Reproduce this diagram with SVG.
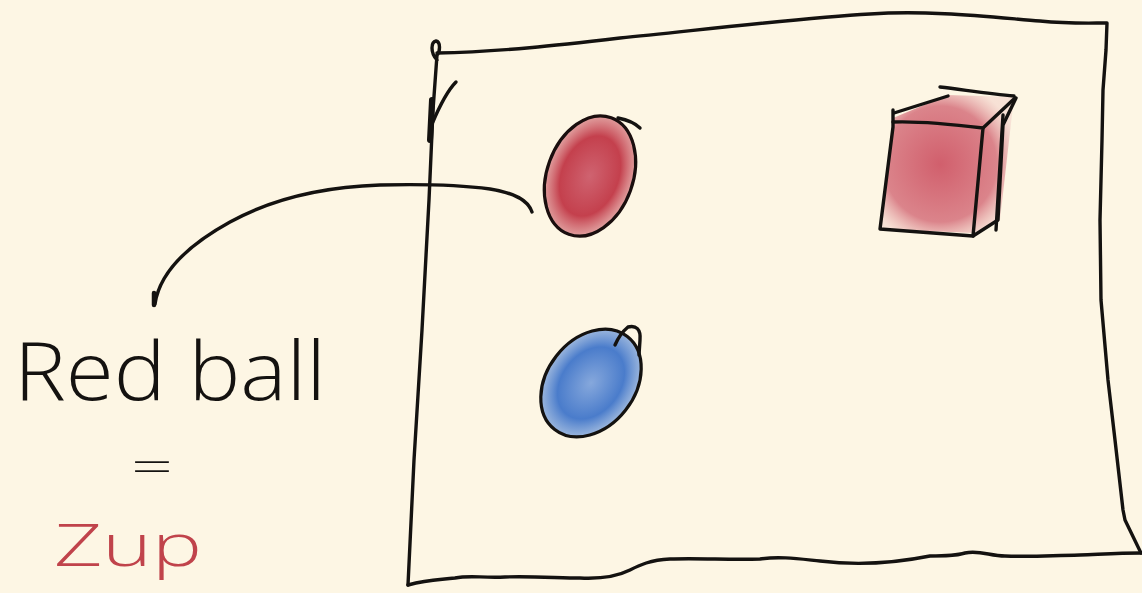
<svg xmlns="http://www.w3.org/2000/svg" width="1142" height="593" viewBox="0 0 1142 593">
<defs>
<style>
.ink{fill:none;stroke:#141210;stroke-width:3.4;stroke-linecap:round;stroke-linejoin:round}
.hand{font-family:"Open Sans","Liberation Sans","DejaVu Sans",sans-serif;font-weight:300;fill:#141210}
</style>
<radialGradient id="red" cx="0.5" cy="0.5" r="0.55">
<stop offset="0" stop-color="#cf6370"/>
<stop offset="0.6" stop-color="#c4404d"/>
<stop offset="1" stop-color="#d98a8f" stop-opacity="0.6"/>
</radialGradient>
<radialGradient id="blue" cx="0.5" cy="0.5" r="0.55">
<stop offset="0" stop-color="#86a8dc"/>
<stop offset="0.6" stop-color="#4a7ccb"/>
<stop offset="1" stop-color="#8fb0e0" stop-opacity="0.7"/>
</radialGradient>
<radialGradient id="cubeRed" cx="0.45" cy="0.5" r="0.6">
<stop offset="0" stop-color="#cd5262"/>
<stop offset="0.7" stop-color="#d87a83"/>
<stop offset="1" stop-color="#f0c9c4" stop-opacity="0.5"/>
</radialGradient>
</defs>
<rect width="1142" height="593" fill="#fdf6e4"/>

<g id="frame">
<path class="ink" d="M437,60 C430,52 431,42 436,41 C441,42 440,52 437,55 L433,110 L429,200 L422,330 L414,460 L408,585"/>
<path class="ink" d="M437,53 C500,52 560,45 620,38 C700,30 800,18 870,14 C930,10 990,17 1040,21 C1070,24 1090,23 1107,23 L1106,50 L1103,90 L1102,140 L1100,220 L1101,300 L1108,380 L1115,440 L1123,510 L1125,520 L1141,553"/>
<path class="ink" d="M1141,553 C1120,553 1105,554 1080,555 C1040,556 1030,557 1005,556 C990,556 980,550 965,553 C955,556 945,556 930,556 C900,562 860,566 820,561 C800,559 780,556 760,559 C730,560 700,558 670,559 C650,560 640,565 630,570 C618,576 600,579 580,578 C560,578 530,576 505,577 C480,578 470,575 455,578 C440,580 430,579 408,585"/>
<path class="ink" d="M432,124 C440,105 448,90 456,82"/>
<path fill="none" stroke="#141210" stroke-width="6" stroke-linecap="round" d="M432,100 L430,140"/>
</g>

<g id="connectors">
<path class="ink" d="M532,212 C528,200 515,193 490,189 C460,185 420,184 380,185 C320,187 270,200 230,222 C190,244 160,270 155,304"/>
<path fill="none" stroke="#141210" stroke-width="4.5" stroke-linecap="round" d="M154,293 L154,305"/>
</g>

<g id="red-ball">
<ellipse cx="590" cy="176" rx="43" ry="63" transform="rotate(22 590 176)" fill="url(#red)"/>
<ellipse cx="590" cy="176" rx="43" ry="62" transform="rotate(20 590 176)" fill="none" stroke="#1a0e0e" stroke-width="3.2"/>
<path class="ink" d="M618,118 C628,120 636,124 640,128"/>
</g>

<g id="blue-ball">
<ellipse cx="591" cy="383" rx="44" ry="60" transform="rotate(38 591 383)" fill="url(#blue)"/>
<ellipse cx="591" cy="383" rx="44" ry="59" transform="rotate(38 591 383)" fill="none" stroke="#141210" stroke-width="3.2"/>
<path class="ink" d="M615,345 C618,338 622,332 628,327 C636,325 641,329 640,340 L639,355"/>
</g>

<g id="cube">
<path d="M893,118 L948,95 L1014,97 L1000,220 L973,233 L880,229 Z" fill="url(#cubeRed)" opacity="0.92"/>
<path class="ink" d="M893,110 L893,127 L880,229 L973,236"/>
<path class="ink" d="M893,122 C920,121 950,124 983,128 L973,236 L998,220 L1003,125 L1016,98"/>
<path class="ink" d="M894,113 L948,96"/>
<path class="ink" d="M940,87 C965,90 990,94 1014,96"/>
<path class="ink" d="M983,128 L1015,98"/>
<path class="ink" d="M1003,115 L996,230"/>
</g>

<g id="labels">
<text class="hand" x="14" y="400" font-size="82" textLength="312" lengthAdjust="spacingAndGlyphs">Red ball</text>
<text class="hand" x="131" y="482" font-size="44" textLength="42" lengthAdjust="spacingAndGlyphs">=</text>
<text class="hand" x="54" y="566" font-size="58" textLength="148" lengthAdjust="spacingAndGlyphs" style="fill:#c0434b">Zup</text>
</g>
</svg>
